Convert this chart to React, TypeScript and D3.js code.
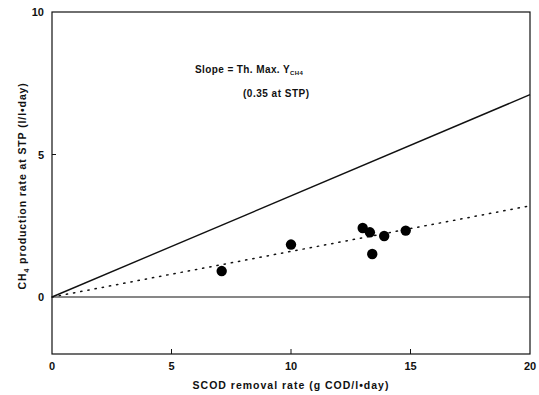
import * as d3 from 'd3';
import React from 'react';

// measured points
const scodRate = [7.1, 10.0, 13.0, 13.3, 13.4, 13.9, 14.8];
const ch4Rate = [0.91, 1.84, 2.42, 2.27, 1.51, 2.14, 2.33];

// lines: theoretical max (solid) and fitted (dotted)
const lineX = [0, 20];
const theoryY = [0, 7.1];
const fitY = [0, 3.2];

const xTicks = [0, 5, 10, 15, 20];
const yTicks = [0, 5, 10];

const W = 539;
const H = 395;
const margin = { top: 12, right: 9, bottom: 41, left: 52 };
const font = '"Liberation Sans", Arial, sans-serif';

export default function App() {
    const x = d3.scaleLinear().domain([0, 20]).range([margin.left, W - margin.right]);
    const y = d3.scaleLinear().domain([-2, 10]).range([H - margin.bottom, margin.top]);

    const line = d3.line<number>()
        .x((d, i) => x(lineX[i]))
        .y(d => y(d));

    const x0 = x(0), x1 = x(20), yTop = y(10), yBot = y(-2);

    return (
        <svg width={W} height={H} style={{ position: 'absolute', left: 0, top: 0, background: '#fff' }}
            fontFamily={font}>
            {/* frame */}
            <rect x={x0} y={yTop} width={x1 - x0} height={yBot - yTop}
                fill="none" stroke="#111" strokeWidth={1.2} />

            {/* inner ticks */}
            {xTicks.slice(1, -1).map(t => (
                <line key={'xt' + t} x1={x(t)} x2={x(t)} y1={yBot} y2={yBot - 5} stroke="#111" strokeWidth={1} />
            ))}
            <line x1={x0} x2={x0 + 4} y1={y(5)} y2={y(5)} stroke="#111" strokeWidth={1} />

            {/* zero line */}
            <line x1={x0} x2={x1} y1={y(0)} y2={y(0)} stroke="#111" strokeWidth={1.1} />

            {/* theoretical line */}
            <path d={line(theoryY) || ''} fill="none" stroke="#111" strokeWidth={1.4} />

            {/* fitted line */}
            <path d={line(fitY) || ''} fill="none" stroke="#111" strokeWidth={1.5}
                strokeDasharray="1.3,6" strokeLinecap="round" />

            {/* points */}
            {scodRate.map((v, i) => (
                <circle key={i} cx={x(v)} cy={y(ch4Rate[i])} r={5.2} fill="#000" />
            ))}

            {/* tick labels */}
            {xTicks.map(t => (
                <text key={'xl' + t} x={x(t)} y={yBot + 16} textAnchor="middle"
                    fontSize={11} fontWeight="bold" fill="#111">{t}</text>
            ))}
            {yTicks.map(t => (
                <text key={'yl' + t} x={x0 - 8} y={y(t) + 4} textAnchor="end"
                    fontSize={11} fontWeight="bold" fill="#111">{t}</text>
            ))}

            {/* axis titles */}
            <text x={x(10)} y={H - 6} textAnchor="middle" fontSize={10.5} fontWeight="bold" fill="#111"
                letterSpacing={1}>
                SCOD removal rate (g COD/l•day)
            </text>
            <text transform={`translate(26,${y(3.9)}) rotate(-90)`} textAnchor="middle"
                fontSize={10.5} fontWeight="bold" fill="#111" letterSpacing={0.9}>
                CH<tspan fontSize={7} dy={3}>4</tspan><tspan dy={-3}> production rate at STP (l/l•day)</tspan>
            </text>

            {/* annotation */}
            <text x={195} y={73} fontSize={10} fontWeight="bold" fill="#111" letterSpacing={0.4}>
                Slope = Th. Max. Y<tspan fontSize={6} dy={2}>CH4</tspan>
            </text>
            <text x={243} y={97} fontSize={10} fontWeight="bold" fill="#111" letterSpacing={0.5}>
                (0.35 at STP)
            </text>
        </svg>
    );
}
